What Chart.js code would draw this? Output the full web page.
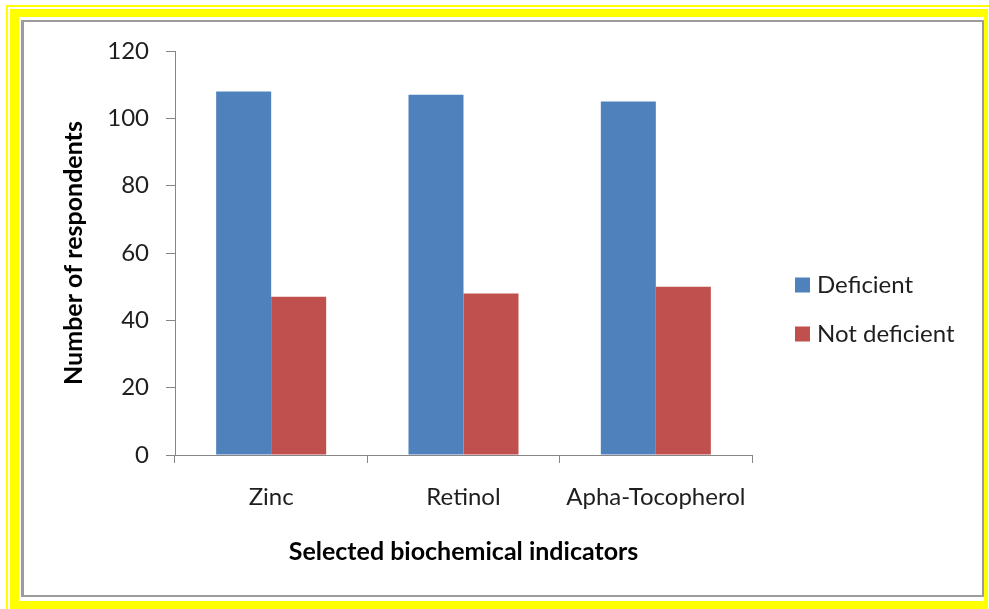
<!DOCTYPE html>
<html>
<head>
<meta charset="utf-8">
<script src="https://cdn.jsdelivr.net/npm/chart.js@4/dist/chart.umd.min.js"></script>
<style>
  html, body { margin: 0; padding: 0; background: #ffffff; }
  body { width: 989px; height: 609px; position: relative; overflow: hidden; }
  .frame { position: absolute; box-sizing: border-box; }
  #thin { left: 6px; top: 5px; width: 990px; height: 610px; border: 2px solid #ffff00; }
  #band { left: 10px; top: 9px; width: 978px; height: 600px; background: #ffff00; }
  #inner { left: 19px; top: 17px; width: 965px; height: 584px; background: #ffffff; }
  #edge { left: 21px; top: 20px; width: 963px; height: 577px; border: 2px solid #9c9c9c; border-left-width: 3px; background: #ffffff; }
  #chart { position: absolute; left: 0; top: 0; }
</style>
</head>
<body>
<div class="frame" id="thin"></div>
<div class="frame" id="band"></div>
<div class="frame" id="inner"></div>
<div class="frame" id="edge"></div>
<canvas id="chart" width="989" height="609"></canvas>
<script>
// Biochemical indicators and respondent counts
const categories = ['Zinc', 'Retinol', 'Apha-Tocopherol'];
const deficient = [108, 107, 105];
const notDeficient = [47, 48, 50];
const seriesNames = ['Deficient', 'Not deficient'];
const yTicks = [0, 20, 40, 60, 80, 100, 120];

const FONT = 'Lato, Calibri, "Liberation Sans", sans-serif';
const TEXT = '#1e1e1e';
const AXIS = '#868686';

// Legend drawn to the right of the plot, one entry per dataset
const sideLegend = {
  id: 'sideLegend',
  afterDraw(chart) {
    const ctx = chart.ctx;
    ctx.save();
    ctx.font = '24px ' + FONT;
    ctx.textBaseline = 'middle';
    ctx.textAlign = 'left';
    chart.data.datasets.forEach((ds, i) => {
      const cy = 285 + i * 49;
      ctx.fillStyle = ds.backgroundColor;
      ctx.fillRect(795, cy - 7.5, 15, 15);
      ctx.fillStyle = TEXT;
      ctx.fillText(ds.label, 817, cy);
    });
    ctx.restore();
  }
};

new Chart(document.getElementById('chart'), {
  type: 'bar',
  data: {
    labels: categories,
    datasets: [
      { label: seriesNames[0], data: deficient, backgroundColor: '#4f81bd' },
      { label: seriesNames[1], data: notDeficient, backgroundColor: '#c0504d' }
    ]
  },
  options: {
    responsive: false,
    animation: false,
    devicePixelRatio: 1,
    layout: { padding: { left: 0, top: 51, right: 237, bottom: 0 } },
    datasets: { bar: { categoryPercentage: 0.572, barPercentage: 1.0 } },
    plugins: {
      legend: { display: false },
      tooltip: { enabled: false }
    },
    scales: {
      x: {
        afterFit(scale) { scale.height = 154; },
        grid: { drawOnChartArea: false, drawTicks: true, tickLength: 8, color: AXIS, offset: true },
        border: { display: true, color: AXIS, width: 1 },
        ticks: { color: TEXT, font: { family: FONT, size: 24 }, padding: 20, maxRotation: 0 },
        title: {
          display: true,
          text: 'Selected biochemical indicators',
          color: '#000000',
          font: { family: FONT, size: 25, weight: 'bold' },
          padding: { top: 0, bottom: 42 }
        }
      },
      y: {
        min: 0,
        max: 120,
        afterFit(scale) { scale.width = 175; },
        afterBuildTicks(scale) { scale.ticks = yTicks.map(v => ({ value: v })); },
        grid: { drawOnChartArea: false, drawTicks: true, tickLength: 9, color: AXIS },
        border: { display: true, color: AXIS, width: 1 },
        ticks: { color: TEXT, font: { family: FONT, size: 24 }, padding: 17 },
        title: {
          display: true,
          text: 'Number of respondents',
          color: '#000000',
          font: { family: FONT, size: 25, weight: 'bold' },
          padding: { top: 59, bottom: 0 }
        }
      }
    }
  },
  plugins: [sideLegend]
});
</script>
</body>
</html>
